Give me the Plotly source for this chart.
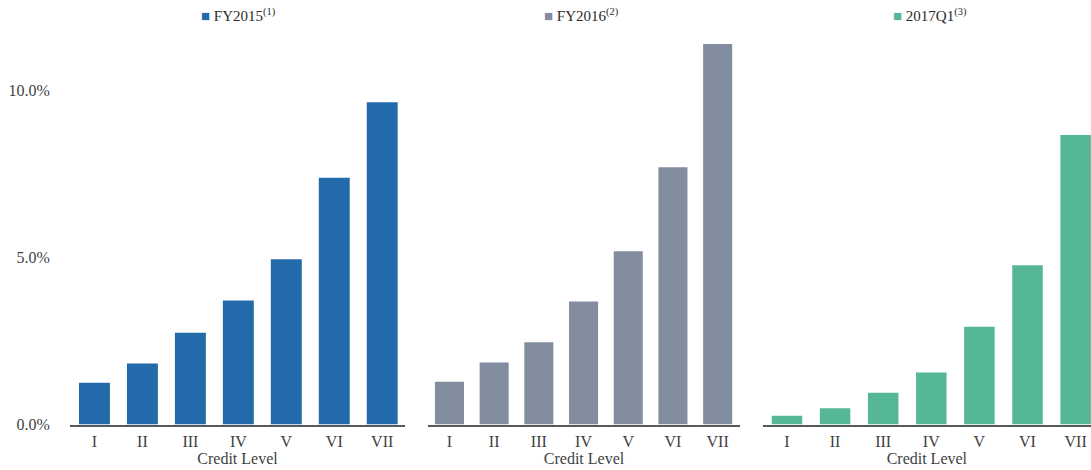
import plotly.graph_objects as go

# Credit levels on the x axis
levels = ["I", "II", "III", "IV", "V", "VI", "VII"]

# Loss rate by credit level (%), one series per period
fy2015 = [1.25, 1.83, 2.75, 3.71, 4.95, 7.39, 9.65]
fy2016 = [1.28, 1.86, 2.46, 3.68, 5.19, 7.70, 11.39]
q1_2017 = [0.26, 0.49, 0.95, 1.56, 2.93, 4.77, 8.67]

series_names = ["FY2015<sup>(1)</sup>", "FY2016<sup>(2)</sup>", "2017Q1<sup>(3)</sup>"]
series_values = [fy2015, fy2016, q1_2017]
colors = ["#236AAB", "#828EA0", "#55B798"]

y_ticks = [0, 5, 10]
y_ticktext = ["0.0%", "5.0%", "10.0%"]

W, H = 1091, 470
font_family = "Liberation Serif, Times New Roman, serif"
text_color = "#3f3f3f"

# panel placement in pixels (left, right) and category ranges
panels_px = [(70, 405), (428, 740), (762.7, 1091)]
x_ranges = [[-0.51, 6.475], [-0.48, 6.5], [-0.505, 6.32]]
bar_widths = [0.645, 0.65, 0.634]
legend_centers = [238, 581, 930]

y_bottom_px, y_top_px = 424.5, 23.7
y_dom = [(H - y_bottom_px) / H, (H - y_top_px) / H]

fig = go.Figure()

for i, (name, vals, col) in enumerate(zip(series_names, series_values, colors)):
    xa = "x" if i == 0 else f"x{i+1}"
    ya = "y" if i == 0 else f"y{i+1}"
    fig.add_trace(go.Bar(
        x=levels, y=vals, name=name, marker_color=col, marker_line_width=0,
        width=bar_widths[i], xaxis=xa, yaxis=ya, showlegend=False,
    ))
    l, r = panels_px[i]
    xkey = "xaxis" if i == 0 else f"xaxis{i+1}"
    ykey = "yaxis" if i == 0 else f"yaxis{i+1}"
    fig.layout[xkey] = dict(
        domain=[l / W, r / W], range=x_ranges[i], type="category",
        showline=True, linecolor="#595959", linewidth=1.5,
        ticks="outside", ticklen=2, tickcolor="rgba(0,0,0,0)",
        tickfont=dict(family=font_family, size=16, color=text_color),
        showgrid=False, zeroline=False, anchor=ya, automargin=False,
        title=dict(text="Credit Level", standoff=2,
                   font=dict(family=font_family, size=16, color=text_color)),
    )
    fig.layout[ykey] = dict(
        domain=y_dom, range=[0, 12], showgrid=False, zeroline=False,
        showline=False, anchor=xa, automargin=False,
        tickvals=y_ticks, ticktext=y_ticktext,
        showticklabels=(i == 0),
        ticks="outside" if i == 0 else "", ticklen=16, tickcolor="rgba(0,0,0,0)",
        tickfont=dict(family=font_family, size=16, color=text_color),
    )
    fig.add_annotation(
        x=legend_centers[i] / W, y=(H - 15) / H, xref="paper", yref="paper",
        xanchor="center", yanchor="middle", showarrow=False,
        text=f"<span style='color:{col}'>■</span> {name}",
        font=dict(family=font_family, size=15, color="#2a2a2a"),
    )

fig.update_layout(
    width=W, height=H, margin=dict(l=0, r=0, t=0, b=0),
    plot_bgcolor="white", paper_bgcolor="white", bargap=0.35,
)

fig.write_html("out.html")
